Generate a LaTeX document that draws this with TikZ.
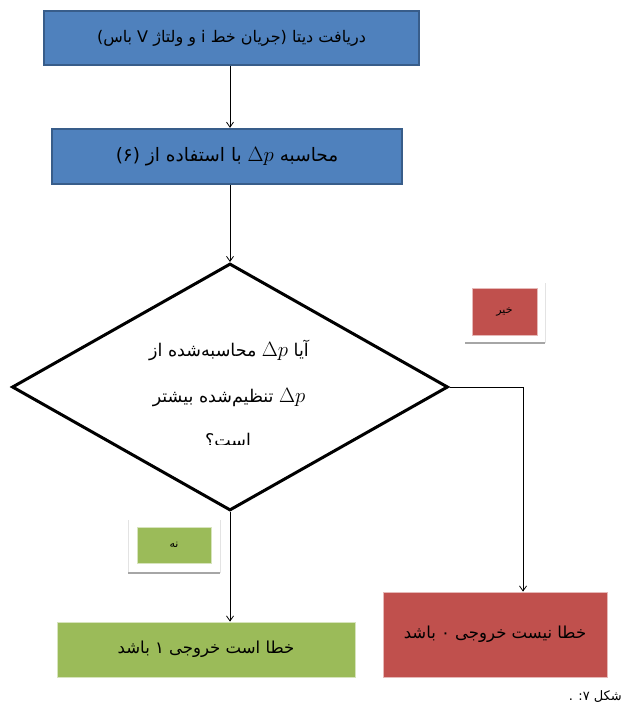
\documentclass[tikz,border=0pt]{standalone}
\usepackage{fontspec}
\usetikzlibrary{shapes.geometric,arrows.meta}
\newfontfamily\fa[Script=Arabic]{DejaVu Sans}
\TeXXeTstate=1
\definecolor{bluefill}{HTML}{4F81BD}
\definecolor{blueedge}{HTML}{385D8A}
\definecolor{redfill}{HTML}{C0504D}
\definecolor{rededge}{HTML}{E6B9B8}
\definecolor{greenfill}{HTML}{9BBB59}
\definecolor{greenedge}{HTML}{D7E4BD}
\definecolor{shadowgray}{HTML}{A6A6A6}
\definecolor{framegray}{HTML}{E3E3E3}
\tikzset{
  bluebox/.style={draw=blueedge, line width=2.4pt, fill=bluefill, inner sep=0pt,
    font=\fa\fontsize{16}{18}\selectfont},
  redbox/.style={draw=rededge, line width=0.8pt, fill=redfill, inner sep=0pt,
    font=\fa\fontsize{16.5}{18}\selectfont},
  greenbox/.style={draw=greenedge, line width=0.8pt, fill=greenfill, inner sep=0pt,
    font=\fa\fontsize{16.5}{18}\selectfont},
  tagbox/.style={inner sep=0pt, font=\fa\fontsize{11}{12}\selectfont},
  arr/.style={draw=black, line width=0.8pt, -{Straight Barb[length=5pt,width=7pt]}},
  plain/.style={draw=black, line width=0.8pt},
}
\begin{document}
\begin{tikzpicture}[x=1pt,y=-1pt]
\useasboundingbox (0,0) rectangle (628,711);
% boxes
\node[bluebox, minimum width=375pt, minimum height=54pt] (box1) at (231.5,38)
  {\beginR دریافت دیتا (جریان خط i و ولتاژ V باس)\endR};
\node[bluebox, minimum width=350pt, minimum height=55pt, font=\fa\fontsize{18.5}{20}\selectfont] (box2) at (227,156.5)
  {\beginR محاسبه {\fontsize{22}{23}\selectfont$\Delta p$} با استفاده از (۶)\endR};
\node[draw=black, line width=3pt, diamond, minimum width=436pt, minimum height=247pt, inner sep=0pt] (dia) at (230,387) {};
\node[font=\fa\fontsize{17.5}{46}\selectfont, align=center] (dtext) at (229,373)
  {\beginR آیا {\fontsize{21}{22}\selectfont$\Delta p$} محاسبه‌شده از\endR\\ \beginR {\fontsize{21}{22}\selectfont$\Delta p$} تنظیم‌شده بیشتر\endR};
\begin{scope}
  \clip (180,420) rectangle (280,444);
  \node[font=\fa\fontsize{17.5}{19}\selectfont, anchor=base] (dlast) at (228,446) {\beginR است؟\endR};
\end{scope}
% tag boxes with frames
\draw[framegray, line width=0.6pt] (545,283) -- (545,343);
\draw[shadowgray, line width=2pt] (465,343) -- (545,343);
\node[tagbox, fill=redfill, draw=rededge, line width=0.6pt, minimum width=65pt, minimum height=47pt] (no) at (504.5,311.5) {\beginR خیر\endR};
\draw[framegray, line width=0.6pt] (128,520) -- (128,573) (220,520) -- (220,573);
\draw[shadowgray, line width=2pt] (128,573) -- (220,573);
\node[tagbox, fill=greenfill, draw=greenedge, line width=0.6pt, minimum width=74pt, minimum height=36pt] (yes) at (174,545) {\beginR نه\endR};
% output boxes
\node[redbox, minimum width=224pt, minimum height=85pt] (red) at (495,634.5)
  {\beginR خطا نیست خروجی ۰ باشد\endR};
\node[greenbox, minimum width=298pt, minimum height=55pt] (green) at (206,649.5)
  {\beginR خطا است خروجی ۱ باشد\endR};
% connectors
\coordinate (turn) at (523,387);
\draw[arr] (box1.south -| dia.north) -- (box2.north -| dia.north);
\draw[arr] (box2.south -| dia.north) -- (dia.north);
\draw[plain] (dia.east) -- (turn);
\draw[arr] (turn) -- (turn |- red.north);
\draw[arr] (dia.south) -- (dia.south |- green.north);
% caption
\node[anchor=east, font=\fa\fontsize{13}{15}\selectfont, inner sep=0pt] (cap) at (622,697) {\beginR شکل ۷: .\endR};
\end{tikzpicture}
\end{document}
